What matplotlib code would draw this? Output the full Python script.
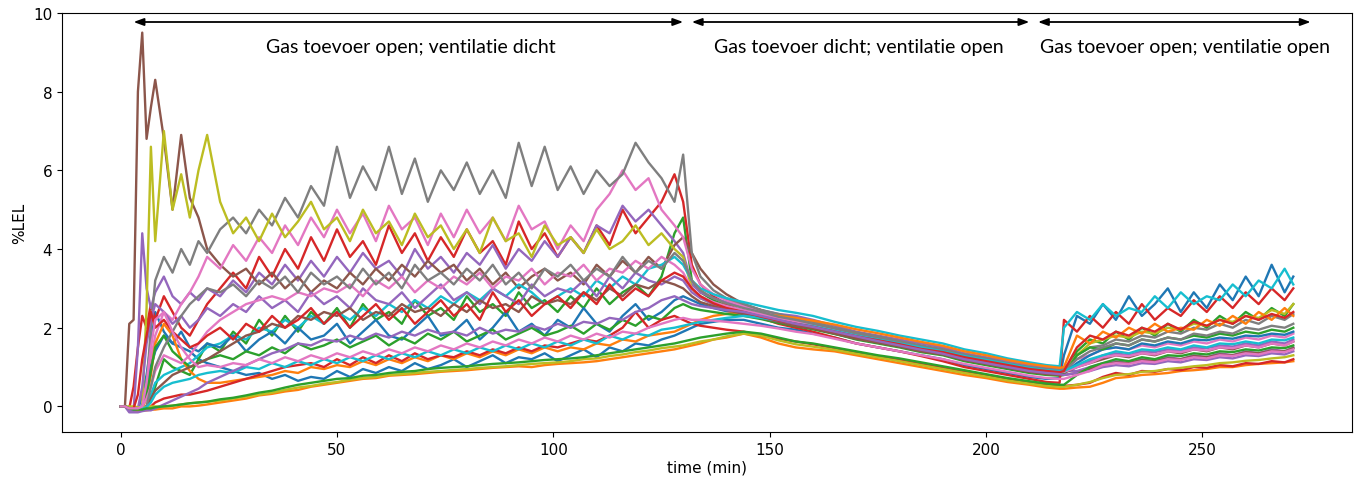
import numpy as np
import matplotlib
matplotlib.use("Agg")
import matplotlib.pyplot as plt

# ---------------- data ----------------
# time grids (min) for the three phases
t_phase1 = [0, 1, 2, 3, 4, 5, 6, 7, 8, 10, 12, 14, 16, 18, 20,
            23, 26, 29, 32, 35, 38, 41, 44, 47, 50, 53, 56, 59, 62, 65, 68, 71, 74,
            77, 80, 83, 86, 89, 92, 95, 98, 101, 104, 107, 110, 113, 116, 119, 122, 125, 128, 130]
t_phase2 = [132, 134, 137, 140, 144, 148, 152, 156, 160, 165, 170, 175, 180, 185, 190,
            195, 200, 205, 210, 214, 217]
t_phase3 = [218, 221, 224, 227, 230, 233, 236, 239, 242, 245, 248, 251, 254, 257, 260,
            263, 266, 269, 271]

# %LEL per sensor (phase1 | phase2 | phase3)
s_blue = [0.0, 0.0, -0.05, -0.1, -0.1, 0.3, 0.8, 1.6, 2.4, 1.9, 1.6, 1.5, 1.4, 1.2, 1.1,
          1.0, 0.9, 0.8, 0.85, 0.7, 0.8, 0.65, 0.75, 0.7, 0.9, 0.75, 0.95, 0.85, 1.0, 0.9, 1.1, 0.95, 1.05,
          1.2, 1.0, 1.15, 1.3, 1.1, 1.25, 1.2, 1.35, 1.15, 1.3, 1.45, 1.25, 1.5, 1.4, 1.6, 1.55, 1.7, 1.8, 1.9,
          2.0, 2.1, 2.15, 2.2, 2.2, 2.1, 2.0, 1.95, 1.85, 1.75, 1.6, 1.5, 1.4, 1.3, 1.2, 1.05, 0.95, 0.85, 0.75, 0.7, 0.72,
          1.3, 2.3, 2.1, 2.6, 2.2, 2.8, 2.3, 2.6, 3.0, 2.4, 2.9, 2.5, 3.1, 2.7, 3.3, 2.8, 3.6, 2.9, 3.3]
s_orange_low = [0.0, 0.0, -0.05, -0.1, -0.12, -0.1, -0.1, -0.08, -0.08, -0.05, -0.05, 0.0, 0.0, 0.02, 0.05,
                0.1, 0.15, 0.2, 0.28, 0.32, 0.38, 0.42, 0.5, 0.55, 0.6, 0.65, 0.7, 0.72, 0.78, 0.8, 0.82, 0.85, 0.88,
                0.9, 0.92, 0.95, 0.98, 1.0, 1.02, 1.0, 1.05, 1.08, 1.1, 1.12, 1.15, 1.2, 1.25, 1.3, 1.35, 1.4, 1.45, 1.5,
                1.55, 1.6, 1.7, 1.75, 1.85, 1.75, 1.6, 1.5, 1.45, 1.4, 1.3, 1.2, 1.1, 1.0, 0.9, 0.8, 0.72, 0.62, 0.55, 0.48, 0.45,
                0.45, 0.48, 0.5, 0.6, 0.72, 0.75, 0.8, 0.82, 0.85, 0.9, 0.92, 0.95, 1.0, 1.0, 1.05, 1.08, 1.1, 1.12, 1.15]
s_green = [0.0, 0.0, -0.05, -0.05, -0.05, -0.05, 0.0, 0.2, 0.5, 1.2, 1.0, 0.9, 0.8, 1.2, 1.6,
           1.4, 1.9, 1.6, 2.2, 1.8, 2.3, 1.9, 2.4, 2.1, 2.5, 2.0, 2.6, 2.2, 2.4, 2.1, 2.7, 2.3, 2.5,
           2.2, 2.8, 2.4, 2.6, 2.3, 2.9, 2.5, 2.7, 2.4, 2.8, 2.5, 3.0, 2.6, 2.9, 3.1, 2.8, 3.3, 4.4, 4.8,
           3.2, 2.9, 2.7, 2.55, 2.4, 2.3, 2.2, 2.1, 2.0, 1.85, 1.7, 1.6, 1.5, 1.38, 1.3, 1.15, 1.05, 0.95, 0.85, 0.8, 0.78,
           0.8, 1.4, 1.7, 1.6, 1.9, 1.7, 2.0, 1.8, 2.1, 1.9, 2.2, 2.0, 2.3, 2.1, 2.4, 2.2, 2.5, 2.3, 2.6]
s_red_top = [0.0, 0.0, -0.05, 0.5, 1.5, 2.3, 2.0, 2.6, 2.2, 2.8, 2.4, 2.0, 1.8, 2.2, 2.6,
             3.0, 3.4, 3.0, 3.8, 3.3, 4.0, 3.5, 4.3, 3.7, 4.5, 3.8, 4.2, 3.6, 4.6, 3.9, 4.4, 3.7, 4.3,
             3.8, 4.5, 3.9, 4.2, 3.6, 4.7, 4.0, 4.4, 3.8, 4.3, 3.9, 4.6, 4.1, 5.0, 4.4, 4.8, 5.2, 5.9, 5.2,
             3.6, 3.1, 2.8, 2.6, 2.4, 2.25, 2.1, 2.0, 1.9, 1.75, 1.6, 1.5, 1.4, 1.28, 1.15, 1.0, 0.9, 0.8, 0.7, 0.62, 0.6,
             2.2, 1.9, 2.3, 2.0, 2.4, 2.1, 2.6, 2.2, 2.5, 2.3, 2.7, 2.4, 2.8, 2.5, 2.9, 2.6, 3.0, 2.7, 3.0]
s_purple = [0.0, 0.0, -0.1, -0.1, 1.5, 4.4, 3.0, 2.5, 2.9, 3.3, 2.8, 2.6, 2.9, 2.7, 3.0,
            2.8, 3.2, 2.9, 3.4, 3.1, 3.6, 3.2, 3.7, 3.3, 3.8, 3.4, 3.9, 3.5, 3.7, 3.3, 4.0, 3.5, 3.8,
            3.4, 3.9, 3.6, 4.1, 3.5, 4.0, 3.7, 4.2, 3.8, 4.3, 3.9, 4.6, 4.4, 5.1, 4.7, 5.0, 4.6, 4.2, 3.9,
            3.1, 2.9, 2.75, 2.65, 2.55, 2.45, 2.35, 2.3, 2.2, 2.05, 1.9, 1.8, 1.7, 1.6, 1.5, 1.35, 1.25, 1.15, 1.05, 0.98, 0.95,
            0.9, 0.9, 1.0, 1.1, 1.15, 1.1, 1.2, 1.15, 1.25, 1.2, 1.3, 1.25, 1.35, 1.3, 1.4, 1.35, 1.45, 1.4, 1.5]
s_brown_peak = [0.0, 0.0, 2.1, 2.2, 8.0, 9.5, 6.8, 7.6, 8.3, 6.8, 5.0, 6.9, 5.3, 4.8, 4.0,
                3.6, 3.3, 3.5, 3.1, 3.4, 3.0, 3.3, 2.9, 3.2, 3.0, 3.4, 3.1, 3.5, 3.2, 3.6, 3.3, 3.7, 3.4,
                3.6, 3.2, 3.5, 3.1, 3.4, 3.0, 3.3, 3.5, 3.2, 3.4, 3.1, 3.6, 3.3, 3.7, 3.4, 3.8, 3.5, 4.1, 4.3,
                3.9, 3.5, 3.1, 2.85, 2.6, 2.45, 2.3, 2.2, 2.1, 1.95, 1.82, 1.7, 1.6, 1.48, 1.4, 1.25, 1.15, 1.05, 0.95, 0.88, 0.85,
                0.85, 1.0, 1.1, 1.2, 1.3, 1.25, 1.35, 1.3, 1.4, 1.35, 1.45, 1.4, 1.5, 1.45, 1.55, 1.5, 1.6, 1.55, 1.65]
s_pink_top = [0.0, 0.0, -0.05, -0.05, -0.05, 0.0, 0.5, 1.2, 1.8, 2.4, 2.2, 2.6, 2.9, 3.3, 3.8,
              3.5, 4.1, 3.7, 4.3, 3.9, 4.6, 4.1, 4.8, 4.3, 5.0, 4.4, 4.9, 4.2, 5.1, 4.5, 4.8, 4.1, 4.9,
              4.3, 5.0, 4.4, 4.8, 4.2, 5.1, 4.5, 4.7, 4.0, 4.6, 4.2, 5.0, 5.4, 6.0, 5.5, 5.8, 5.0, 4.6, 4.3,
              3.5, 3.1, 2.85, 2.7, 2.55, 2.4, 2.3, 2.2, 2.1, 1.95, 1.85, 1.75, 1.62, 1.52, 1.42, 1.3, 1.2, 1.1, 1.0, 0.93, 0.9,
              0.9, 1.2, 1.3, 1.45, 1.5, 1.45, 1.55, 1.5, 1.6, 1.55, 1.65, 1.6, 1.7, 1.65, 1.75, 1.7, 1.8, 1.75, 1.85]
s_gray_top = [0.0, 0.0, -0.05, -0.05, -0.05, -0.05, 0.5, 2.0, 3.2, 3.8, 3.4, 4.0, 3.6, 4.2, 3.9,
              4.5, 4.8, 4.4, 5.0, 4.6, 5.3, 4.8, 5.6, 5.1, 6.6, 5.3, 6.1, 5.5, 6.6, 5.4, 6.3, 5.2, 6.0,
              5.5, 6.2, 5.4, 6.0, 5.3, 6.7, 5.6, 6.6, 5.5, 6.1, 5.4, 6.0, 5.6, 5.9, 6.7, 6.2, 5.8, 5.2, 6.4,
              3.9, 3.3, 2.95, 2.75, 2.6, 2.45, 2.35, 2.25, 2.15, 2.0, 1.88, 1.78, 1.66, 1.55, 1.45, 1.32, 1.22, 1.1, 1.0, 0.95, 0.92,
              0.95, 1.3, 1.5, 1.55, 1.7, 1.65, 1.8, 1.75, 1.9, 1.85, 2.0, 1.95, 2.1, 2.0, 2.2, 2.1, 2.3, 2.2, 2.35]
s_olive = [0.0, 0.0, -0.05, -0.05, -0.05, 0.0, 2.5, 6.6, 4.2, 7.0, 5.0, 5.9, 4.8, 6.0, 6.9,
           5.2, 4.4, 4.8, 4.2, 4.9, 4.3, 4.7, 5.2, 4.5, 4.8, 4.2, 5.0, 4.4, 4.7, 4.1, 4.9, 4.3, 4.6,
           4.0, 4.5, 3.9, 4.8, 4.2, 4.4, 3.8, 4.6, 4.1, 4.3, 3.9, 4.5, 4.0, 4.2, 4.6, 4.1, 4.4, 4.0, 3.8,
           3.0, 2.75, 2.6, 2.5, 2.4, 2.3, 2.2, 2.12, 2.05, 1.9, 1.78, 1.68, 1.56, 1.45, 1.36, 1.22, 1.12, 1.02, 0.92, 0.86, 0.83,
           0.85, 1.3, 1.6, 1.7, 1.8, 1.75, 1.9, 1.85, 2.0, 1.95, 2.1, 2.05, 2.2, 2.15, 2.3, 2.25, 2.45, 2.35, 2.6]
s_cyan = [0.0, 0.0, -0.05, -0.05, -0.05, -0.05, 0.0, 0.3, 0.6, 0.8, 0.9, 1.0, 1.1, 1.3, 1.5,
          1.6, 1.8, 1.7, 2.0, 1.9, 2.2, 2.0, 2.3, 2.1, 2.4, 2.2, 2.5, 2.3, 2.6, 2.4, 2.7, 2.5, 2.8,
          2.6, 2.9, 2.7, 3.0, 2.8, 3.1, 2.9, 2.6, 2.8, 3.0, 2.8, 3.2, 3.0, 3.3, 3.1, 3.5, 3.6, 3.8, 3.6,
          3.2, 3.0, 2.85, 2.75, 2.65, 2.55, 2.45, 2.38, 2.3, 2.15, 2.02, 1.92, 1.8, 1.7, 1.6, 1.45, 1.35, 1.22, 1.12, 1.05, 1.02,
          2.0, 2.4, 2.2, 2.6, 2.3, 2.5, 2.4, 2.8, 2.5, 2.9, 2.6, 2.8, 2.7, 3.1, 2.8, 3.2, 3.0, 3.5, 3.1]
s_red_low = [0.0, 0.0, -0.05, -0.05, -0.05, -0.05, -0.05, 0.0, 0.1, 0.2, 0.25, 0.3, 0.3, 0.35, 0.4,
             0.5, 0.6, 0.7, 0.8, 0.9, 1.0, 1.05, 1.1, 1.0, 1.2, 1.05, 1.25, 1.1, 1.3, 1.15, 1.35, 1.2, 1.3,
             1.25, 1.4, 1.3, 1.45, 1.35, 1.5, 1.4, 1.55, 1.5, 1.6, 1.7, 1.65, 1.8, 2.0, 2.4, 2.0, 2.2, 2.3, 2.2,
             2.1, 2.05, 2.0, 1.95, 1.9, 1.8, 1.72, 1.65, 1.58, 1.48, 1.38, 1.28, 1.18, 1.08, 0.98, 0.88, 0.78, 0.68, 0.6, 0.55, 0.52,
             0.52, 0.55, 0.6, 0.75, 0.85, 0.8, 0.9, 0.88, 0.95, 0.92, 1.0, 0.98, 1.05, 1.02, 1.1, 1.08, 1.15, 1.12, 1.2]
s_pink_mid = [0.0, 0.0, -0.05, -0.05, -0.05, 0.0, 0.2, 0.5, 0.9, 1.3, 1.2, 1.1, 1.3, 1.6, 1.9,
              2.2, 2.4, 2.6, 2.7, 2.8, 2.7, 2.9, 2.8, 3.0, 2.9, 3.1, 2.8, 3.2, 3.0, 3.3, 2.9, 3.2, 3.0,
              3.3, 3.1, 3.4, 3.0, 3.3, 3.2, 3.5, 3.1, 3.4, 3.3, 3.6, 3.2, 3.5, 3.4, 3.7, 3.5, 3.8, 3.6, 3.4,
              3.0, 2.8, 2.65, 2.55, 2.45, 2.35, 2.25, 2.15, 2.08, 1.95, 1.82, 1.72, 1.62, 1.5, 1.4, 1.28, 1.18, 1.08, 0.98, 0.92, 0.88,
              0.88, 1.0, 1.1, 1.25, 1.3, 1.28, 1.35, 1.32, 1.4, 1.38, 1.45, 1.42, 1.5, 1.48, 1.55, 1.5, 1.6, 1.55, 1.65]
s_purple_low = [0.0, 0.0, -0.15, -0.15, -0.15, -0.12, -0.1, -0.1, -0.05, 0.05, 0.15, 0.25, 0.35, 0.45, 0.6,
                0.75, 0.9, 1.05, 1.2, 1.35, 1.45, 1.6, 1.55, 1.7, 1.65, 1.8, 1.7, 1.85, 1.75, 1.9, 1.8, 1.95, 1.85,
                1.9, 1.8, 2.0, 1.85, 1.95, 1.9, 2.05, 1.95, 2.1, 2.0, 2.15, 2.1, 2.25, 2.2, 2.4, 2.5, 2.7, 2.8, 2.7,
                2.6, 2.55, 2.5, 2.45, 2.4, 2.3, 2.2, 2.1, 2.02, 1.9, 1.78, 1.66, 1.55, 1.44, 1.34, 1.2, 1.1, 1.0, 0.9, 0.85, 0.82,
                0.8, 0.85, 0.9, 1.0, 1.05, 1.02, 1.1, 1.08, 1.15, 1.12, 1.2, 1.18, 1.25, 1.22, 1.3, 1.28, 1.35, 1.32, 1.4]
s_orange_mid = [0.0, 0.0, -0.05, -0.05, -0.05, -0.05, 0.2, 0.8, 1.6, 2.1, 1.8, 1.2, 0.9, 0.7, 0.6,
                0.6, 0.65, 0.7, 0.75, 0.8, 0.9, 0.85, 1.0, 0.95, 1.05, 1.0, 1.15, 1.05, 1.2, 1.1, 1.25, 1.15, 1.3,
                1.2, 1.35, 1.25, 1.4, 1.3, 1.45, 1.35, 1.5, 1.4, 1.5, 1.45, 1.6, 1.55, 1.7, 1.65, 1.8, 1.85, 1.9, 2.0,
                2.1, 2.2, 2.3, 2.35, 2.4, 2.35, 2.3, 2.25, 2.18, 2.08, 1.96, 1.86, 1.75, 1.64, 1.54, 1.4, 1.3, 1.18, 1.08, 1.02, 0.98,
                1.0, 1.8, 1.6, 1.9, 1.75, 2.0, 1.85, 2.1, 1.9, 2.0, 1.95, 2.2, 2.05, 2.3, 2.1, 2.4, 2.2, 2.5, 2.3]
s_green_low = [0.0, 0.0, -0.05, -0.08, -0.08, -0.08, -0.05, -0.05, -0.02, 0.0, 0.02, 0.05, 0.08, 0.1, 0.12,
               0.18, 0.22, 0.28, 0.35, 0.4, 0.48, 0.55, 0.6, 0.65, 0.7, 0.72, 0.78, 0.8, 0.85, 0.88, 0.9, 0.95, 0.98,
               1.0, 1.02, 1.05, 1.08, 1.1, 1.12, 1.15, 1.18, 1.2, 1.22, 1.25, 1.3, 1.35, 1.4, 1.45, 1.5, 1.55, 1.6, 1.65,
               1.7, 1.75, 1.8, 1.85, 1.9, 1.85, 1.75, 1.65, 1.6, 1.5, 1.4, 1.3, 1.22, 1.12, 1.02, 0.92, 0.82, 0.72, 0.64, 0.58, 0.55,
               0.55, 0.8, 1.0, 1.1, 1.2, 1.15, 1.25, 1.2, 1.3, 1.28, 1.35, 1.32, 1.4, 1.38, 1.45, 1.42, 1.5, 1.48, 1.55]
s_brown_mid = [0.0, 0.0, -0.05, -0.05, -0.05, -0.05, 0.0, 0.2, 0.4, 0.6, 0.8, 0.9, 1.0, 1.1, 1.2,
               1.4, 1.6, 1.8, 1.9, 2.1, 2.0, 2.3, 2.2, 2.4, 2.3, 2.5, 2.2, 2.4, 2.3, 2.6, 2.4, 2.5, 2.3,
               2.6, 2.4, 2.7, 2.5, 2.6, 2.4, 2.8, 2.6, 2.7, 2.6, 2.9, 2.7, 3.0, 2.8, 3.1, 3.0, 3.2, 3.1, 3.0,
               2.8, 2.65, 2.55, 2.45, 2.35, 2.25, 2.15, 2.05, 1.98, 1.85, 1.72, 1.62, 1.52, 1.4, 1.32, 1.18, 1.08, 0.98, 0.88, 0.82, 0.8,
               0.8, 0.85, 0.95, 1.05, 1.12, 1.1, 1.18, 1.15, 1.22, 1.2, 1.28, 1.25, 1.32, 1.3, 1.38, 1.35, 1.42, 1.4, 1.48]
s_gray_mid = [0.0, 0.0, -0.05, -0.05, -0.05, -0.05, 0.0, 0.5, 1.0, 1.5, 1.9, 2.3, 2.6, 2.8, 3.0,
              2.9, 3.1, 2.8, 3.2, 3.0, 3.3, 2.9, 3.4, 3.1, 3.3, 3.0, 3.5, 3.1, 3.4, 3.0, 3.6, 3.2, 3.4,
              3.1, 3.5, 3.2, 3.6, 3.1, 3.4, 3.0, 3.5, 3.3, 3.6, 3.2, 3.5, 3.3, 3.8, 3.4, 3.7, 3.5, 3.9, 3.7,
              3.2, 2.95, 2.75, 2.62, 2.5, 2.4, 2.28, 2.2, 2.1, 1.98, 1.85, 1.75, 1.64, 1.52, 1.45, 1.3, 1.2, 1.1, 1.0, 0.94, 0.9,
              0.9, 1.2, 1.4, 1.5, 1.6, 1.55, 1.7, 1.65, 1.75, 1.7, 1.85, 1.8, 1.9, 1.85, 2.0, 1.95, 2.05, 2.0, 2.1]
s_olive_low = [0.0, 0.0, 0.0, 0.0, -0.02, -0.02, -0.02, 0.0, 0.0, 0.0, 0.02, 0.05, 0.08, 0.1, 0.12,
               0.15, 0.2, 0.25, 0.3, 0.35, 0.42, 0.48, 0.52, 0.58, 0.62, 0.68, 0.72, 0.75, 0.8, 0.82, 0.85, 0.88, 0.9,
               0.93, 0.95, 0.98, 1.0, 1.02, 1.05, 1.08, 1.1, 1.12, 1.15, 1.2, 1.22, 1.28, 1.32, 1.38, 1.42, 1.48, 1.52, 1.55,
               1.6, 1.65, 1.7, 1.78, 1.85, 1.8, 1.68, 1.58, 1.52, 1.44, 1.34, 1.25, 1.15, 1.05, 0.95, 0.85, 0.76, 0.66, 0.58, 0.52, 0.5,
               0.5, 0.55, 0.62, 0.72, 0.8, 0.82, 0.88, 0.9, 0.95, 0.98, 1.02, 1.05, 1.1, 1.12, 1.16, 1.18, 1.22, 1.25, 1.3]
s_blue_mid = [0.0, 0.0, -0.05, -0.05, -0.05, 0.0, 0.4, 1.0, 1.4, 1.8, 1.6, 1.9, 1.5, 1.4, 1.6,
              1.5, 1.8, 1.4, 1.7, 1.9, 1.6, 2.0, 1.7, 1.8, 2.1, 1.6, 1.9, 2.2, 1.8, 1.7, 2.0, 2.3, 1.8,
              1.9, 2.2, 1.7, 2.0, 2.4, 1.9, 2.1, 1.8, 2.2, 2.0, 2.5, 2.1, 1.9, 2.3, 2.6, 2.2, 2.4, 2.7, 2.8,
              2.7, 2.6, 2.5, 2.42, 2.35, 2.25, 2.15, 2.08, 2.0, 1.88, 1.76, 1.66, 1.56, 1.45, 1.36, 1.24, 1.14, 1.04, 0.94, 0.88, 0.85,
              0.85, 1.1, 1.3, 1.45, 1.5, 1.45, 1.6, 1.55, 1.65, 1.6, 1.7, 1.68, 1.75, 1.72, 1.8, 1.78, 1.85, 1.82, 1.9]
s_red_mid = [0.0, 0.0, -0.05, -0.05, 0.3, 1.2, 1.8, 2.4, 2.0, 2.2, 1.9, 1.7, 1.5, 1.6, 1.8,
             2.0, 1.7, 2.1, 1.9, 2.3, 2.0, 2.2, 2.5, 2.1, 2.4, 2.0, 2.3, 2.6, 2.2, 2.5, 2.1, 2.4, 2.7,
             2.3, 2.6, 2.2, 2.9, 2.4, 2.7, 2.3, 2.6, 2.8, 2.5, 2.9, 2.6, 3.1, 2.7, 3.0, 2.8, 3.2, 3.4, 3.3,
             3.0, 2.8, 2.62, 2.5, 2.4, 2.28, 2.18, 2.1, 2.02, 1.9, 1.78, 1.68, 1.58, 1.46, 1.38, 1.25, 1.15, 1.05, 0.95, 0.9, 0.87,
             0.9, 1.5, 1.8, 1.7, 1.9, 1.8, 2.0, 1.9, 2.1, 1.95, 2.15, 2.05, 2.2, 2.1, 2.3, 2.2, 2.35, 2.25, 2.4]
s_purple_mid = [0.0, 0.0, -0.1, -0.1, -0.05, 0.5, 1.6, 2.2, 2.6, 2.4, 2.1, 2.3, 2.0, 2.2, 2.5,
                2.3, 2.6, 2.4, 2.8, 2.5, 2.7, 2.4, 2.9, 2.6, 2.8, 2.5, 3.0, 2.7, 2.6, 2.9, 2.5, 2.8, 3.1,
                2.7, 2.9, 2.6, 3.0, 2.8, 2.6, 3.1, 2.8, 3.0, 2.9, 3.2, 2.8, 3.3, 3.0, 3.4, 3.2, 3.1, 3.3, 3.2,
                2.9, 2.75, 2.6, 2.5, 2.42, 2.32, 2.22, 2.14, 2.06, 1.94, 1.8, 1.7, 1.6, 1.48, 1.38, 1.26, 1.16, 1.06, 0.96, 0.9, 0.88,
                0.88, 1.0, 1.15, 1.3, 1.35, 1.3, 1.4, 1.38, 1.45, 1.42, 1.5, 1.48, 1.55, 1.52, 1.6, 1.55, 1.65, 1.6, 1.7]
s_cyan_low = [0.0, 0.0, -0.05, -0.05, -0.05, -0.05, -0.02, 0.1, 0.3, 0.5, 0.6, 0.65, 0.7, 0.8, 0.85,
              0.9, 0.85, 1.0, 0.95, 1.1, 1.0, 1.15, 1.05, 1.2, 1.1, 1.25, 1.15, 1.3, 1.2, 1.35, 1.25, 1.4, 1.3,
              1.45, 1.35, 1.5, 1.4, 1.55, 1.45, 1.6, 1.5, 1.65, 1.55, 1.7, 1.6, 1.8, 1.7, 1.85, 1.8, 1.95, 2.0, 2.05,
              2.1, 2.15, 2.2, 2.25, 2.3, 2.25, 2.18, 2.1, 2.04, 1.92, 1.8, 1.7, 1.6, 1.5, 1.4, 1.28, 1.18, 1.08, 0.98, 0.92, 0.9,
              0.9, 1.05, 1.2, 1.3, 1.4, 1.35, 1.45, 1.42, 1.5, 1.45, 1.55, 1.5, 1.6, 1.58, 1.65, 1.6, 1.7, 1.68, 1.75]
s_green_mid = [0.0, 0.0, -0.05, -0.05, -0.05, 0.0, 0.3, 0.9, 1.5, 1.8, 1.4, 1.2, 1.0, 1.1, 1.2,
               1.3, 1.2, 1.4, 1.3, 1.5, 1.35, 1.6, 1.45, 1.55, 1.7, 1.5, 1.65, 1.8, 1.55, 1.75, 1.6, 1.85, 1.7,
               1.9, 1.65, 1.8, 1.95, 1.7, 1.85, 2.0, 1.8, 1.9, 2.05, 1.85, 2.1, 1.95, 2.2, 2.05, 2.3, 2.2, 2.5, 2.6,
               2.5, 2.45, 2.4, 2.35, 2.3, 2.22, 2.12, 2.04, 1.96, 1.84, 1.72, 1.62, 1.52, 1.42, 1.32, 1.2, 1.1, 1.0, 0.9, 0.84, 0.8,
               0.82, 1.3, 1.5, 1.45, 1.6, 1.55, 1.7, 1.65, 1.75, 1.7, 1.8, 1.75, 1.85, 1.8, 1.9, 1.85, 1.95, 1.9, 2.0]
s_pink_low = [0.0, 0.0, -0.05, -0.05, -0.05, 0.0, 0.6, 1.5, 2.2, 2.4, 1.9, 1.5, 1.2, 1.0, 1.05,
              1.0, 1.1, 1.05, 1.2, 1.1, 1.25, 1.15, 1.3, 1.2, 1.35, 1.25, 1.4, 1.3, 1.45, 1.35, 1.5, 1.4, 1.55,
              1.45, 1.6, 1.5, 1.65, 1.55, 1.7, 1.6, 1.75, 1.65, 1.8, 1.7, 1.85, 1.75, 1.9, 1.85, 2.0, 2.1, 2.2, 2.25,
              2.2, 2.2, 2.18, 2.15, 2.1, 2.05, 1.98, 1.9, 1.84, 1.72, 1.6, 1.5, 1.4, 1.3, 1.2, 1.08, 0.98, 0.88, 0.78, 0.72, 0.7,
              0.7, 0.8, 0.9, 1.05, 1.1, 1.08, 1.15, 1.12, 1.2, 1.18, 1.25, 1.22, 1.3, 1.28, 1.35, 1.32, 1.4, 1.38, 1.45]

series = [s_blue, s_orange_low, s_green, s_red_top, s_purple, s_brown_peak, s_pink_top,
          s_gray_top, s_olive, s_cyan, s_blue_mid, s_orange_mid, s_green_mid, s_red_low,
          s_purple_mid, s_brown_mid, s_pink_mid, s_gray_mid, s_olive_low, s_cyan_low,
          s_red_mid, s_purple_low, s_green_low, s_pink_low]
colors = ["tab:blue", "tab:orange", "tab:green", "tab:red", "tab:purple", "tab:brown", "tab:pink",
          "tab:gray", "tab:olive", "tab:cyan", "tab:blue", "tab:orange", "tab:green", "tab:red",
          "tab:purple", "tab:brown", "tab:pink", "tab:gray", "tab:olive", "tab:cyan",
          "tab:red", "tab:purple", "tab:green", "tab:pink"]

phase_labels = ["Gas toevoer open; ventilatie dicht",
                "Gas toevoer dicht; ventilatie open",
                "Gas toevoer open; ventilatie open"]
phase_spans = [(3, 130), (132, 210), (212, 275)]
phase_text_x = [67, 170.5, 246]

# ---------------- plot ----------------
t_all = np.array(t_phase1 + t_phase2 + t_phase3)

fig = plt.figure(figsize=(13.56, 4.81), dpi=100)
ax = fig.add_axes([0.0457, 0.0998, 0.9513, 0.8712])

for s, c in zip(series, colors):
    ax.plot(t_all, s, color=c, lw=1.7)

for (a, b), lab, xt in zip(phase_spans, phase_labels, phase_text_x):
    ax.annotate("", xy=(b, 9.77), xytext=(a, 9.77),
                arrowprops=dict(arrowstyle="<|-|>,head_length=0.6,head_width=0.22",
                                color="black", lw=1.3, shrinkA=0, shrinkB=0))
    ax.text(xt, 9.15, lab, ha="center", va="center", fontsize=14, family="Lato")

ax.set_xlim(-13.55, 284.55)
ax.set_ylim(-0.65, 10)
ax.set_xticks([0, 50, 100, 150, 200, 250])
ax.set_yticks([0, 2, 4, 6, 8, 10])
ax.tick_params(labelsize=11)
ax.set_xlabel("time (min)", fontsize=11, labelpad=2)
ax.set_ylabel("%LEL", fontsize=11)

fig.savefig("out.png", dpi=100)
